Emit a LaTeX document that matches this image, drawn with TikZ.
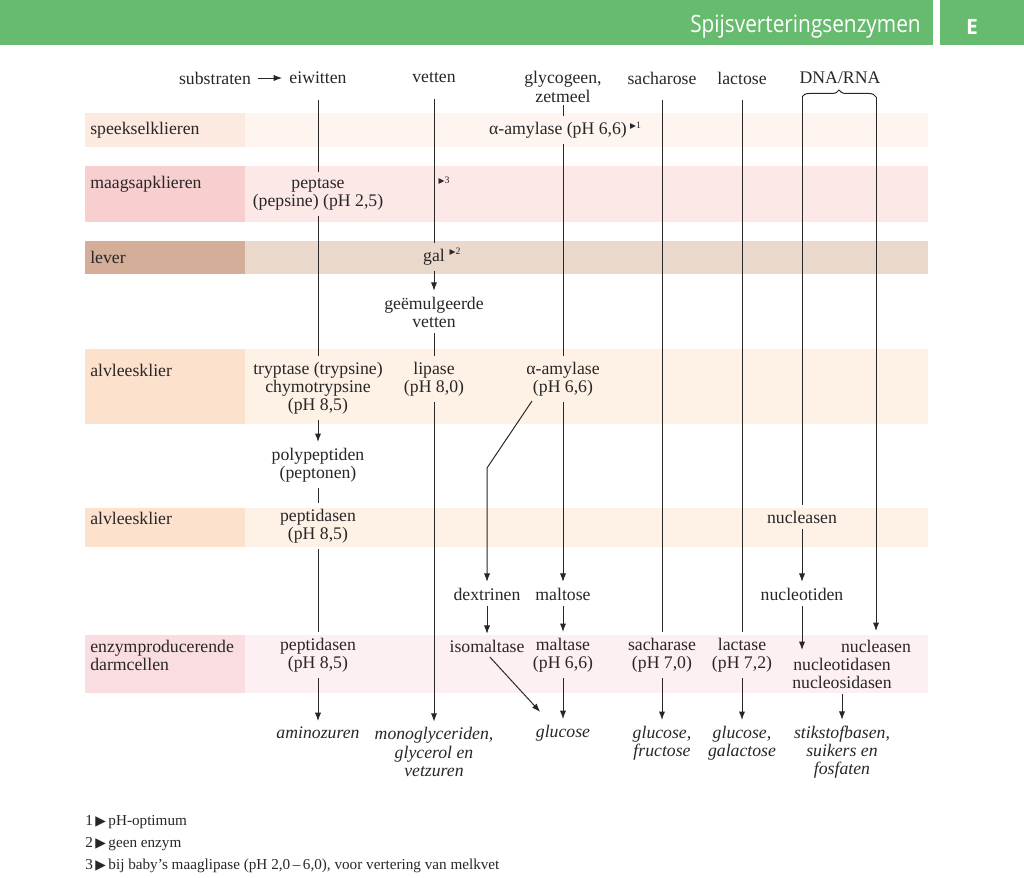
\documentclass[tikz,border=0pt]{standalone}
\usepackage{fontspec}
\usepackage{graphicx}
\setmainfont{Liberation Serif}
\newfontfamily\kopfont{Open Sans}
\newfontfamily\symfont{DejaVu Sans}
\usetikzlibrary{arrows.meta, positioning, calc, decorations.pathreplacing}
\definecolor{groen}{RGB}{102,187,110}
\definecolor{inkt}{RGB}{40,38,38}
\definecolor{spkl}{RGB}{252,233,223}
\definecolor{spkb}{RGB}{254,244,240}
\definecolor{maagl}{RGB}{247,207,207}
\definecolor{maagb}{RGB}{253,232,232}
\definecolor{leverl}{RGB}{212,174,152}
\definecolor{leverb}{RGB}{235,216,205}
\definecolor{alvl}{RGB}{252,225,205}
\definecolor{alvb}{RGB}{254,242,231}
\definecolor{darml}{RGB}{250,221,225}
\definecolor{darmb}{RGB}{253,240,242}
\newcommand{\tekst}{\fontsize{12.6}{12.9}\selectfont}
\newcommand{\voet}{\fontsize{10.8}{12}\selectfont}
\newcommand{\pijl}{{\symfont\scalebox{0.9}{▶}}}
\newcommand{\noot}[1]{{\symfont\fontsize{5.5}{5.5}\selectfont ▶}{\fontsize{7}{7}\selectfont #1}}

\begin{document}
\begin{tikzpicture}[x=0.025cm, y=-0.025cm,
  txt/.style={align=center, inner sep=1pt, text=inkt, font=\tekst},
  res/.style={txt, font=\tekst\itshape},
  rij/.style={anchor=west, align=left, inner sep=0pt, text=inkt, font=\tekst},
  lijn/.style={draw=inkt, line width=0.7pt, shorten <=3pt, shorten >=3pt},
  pijlen/.style={lijn, -{Latex[length=6pt,width=4.4pt]}},
  boven/.style={lijn, shorten <=10pt}]
\useasboundingbox (0,0) rectangle (1024,877);

\fill[groen] (0,0) rectangle (933,45);
\fill[groen] (940,0) rectangle (1024,45);
\node[anchor=east, inner sep=0pt, text=white, font=\kopfont\fontsize{17}{17}\selectfont] (titel) at (921,27) {\scalebox{0.87}[1]{Spijsverteringsenzymen}};
\node[inner sep=0pt, text=white, font=\kopfont\bfseries\fontsize{15}{15}\selectfont] (letter) at (972,27) {E};

\fill[spkl] (85,113) rectangle (245,147);
\fill[spkb] (245,113) rectangle (928,147);
\fill[maagl] (85,166) rectangle (245,222);
\fill[maagb] (245,166) rectangle (928,222);
\fill[leverl] (85,241) rectangle (245,274);
\fill[leverb] (245,241) rectangle (928,274);
\fill[alvl] (85,349) rectangle (245,424);
\fill[alvb] (245,349) rectangle (928,424);
\fill[alvl] (85,508) rectangle (245,547);
\fill[alvb] (245,508) rectangle (928,547);
\fill[darml] (85,635) rectangle (245,693);
\fill[darmb] (245,635) rectangle (928,693);

\node[rij] (r1) at (90,130) {speekselklieren};
\node[rij] (r2) at (90,184) {maagsapklieren};
\node[rij] (r3) at (90,257) {lever};
\node[rij] (r4) at (90,370) {alvleesklier};
\node[rij] (r5) at (90,518) {alvleesklier};
\node[rij] (r6) at (90,655) {enzymproducerende\\darmcellen};

\node[txt] (substr) at (215,78) {substraten};
\node[txt] (eiw) at (318,78) {eiwitten};
\node[txt] (vet) at (434,78) {vetten};
\node[txt] (glyco) at (563,87) {glycogeen,\\zetmeel};
\node[txt] (sach) at (662,78) {sacharose};
\node[txt] (lact) at (742,78) {lactose};
\node[txt] (dna) at (840,78) {DNA/RNA};
\coordinate (bl) at (802,97);
\coordinate (br) at (876,97);

\node[txt] (amyl1) at (558,130) {α-amylase (pH 6,6)};
\node[inner sep=0pt, text=inkt, anchor=south west] (nt1) at ([shift={(1pt,-7pt)}]amyl1.north east) {\noot{1}};
\node[txt] (peptase) at (318,194) {peptase\\(pepsine) (pH 2,5)};
\node[inner sep=0pt, text=inkt] (nt3) at (444,181) {\noot{3}};
\node[txt] (gal) at (434,257) {gal};
\node[inner sep=0pt, text=inkt, anchor=south west] (nt2) at ([shift={(2pt,-6pt)}]gal.north east) {\noot{2}};
\node[txt] (emul) at (434,312) {geëmulgeerde\\vetten};
\node[txt] (trypt) at (318,388) {tryptase (trypsine)\\chymotrypsine\\(pH 8,5)};
\node[txt] (lipase) at (434,379) {lipase\\(pH 8,0)};
\node[txt] (amyl2) at (563,379) {α-amylase\\(pH 6,6)};
\node[txt] (polyp) at (318,465) {polypeptiden\\(peptonen)};
\node[txt] (pepti1) at (318,526) {peptidasen\\(pH 8,5)};
\node[txt] (nucl1) at (802,517) {nucleasen};
\node[txt] (dextr) at (487,594) {dextrinen};
\node[txt] (malt) at (563,594) {maltose};
\node[txt] (nuctid) at (802,594) {nucleotiden};
\node[txt] (pepti2) at (318,655) {peptidasen\\(pH 8,5)};
\node[txt] (isomalt) at (487,646) {isomaltase};
\node[txt] (maltase) at (563,655) {maltase\\(pH 6,6)};
\node[txt] (sacch) at (662,655) {sacharase\\(pH 7,0)};
\node[txt] (lactase) at (742,655) {lactase\\(pH 7,2)};
\node[txt] (nucl2) at (876,646) {nucleasen};
\node[txt] (nucdas) at (842,673) {nucleotidasen\\nucleosidasen};

\node[res] (amino) at (318,733) {aminozuren};
\node[res] (mono) at (434,752) {monoglyceriden,\\glycerol en\\vetzuren};
\node[res] (gluc) at (563,733) {glucose};
\node[res] (glfr) at (662,743) {glucose,\\fructose};
\node[res] (glga) at (742,743) {glucose,\\galactose};
\node[res] (stik) at (842,752) {stikstofbasen,\\suikers en\\fosfaten};

\coordinate (splits) at (532,401);
\coordinate (knik) at (487,468);
\coordinate (nucpunt) at (802,650);
\coordinate (glpunt) at (543,715);

\draw[pijlen, shorten <=4pt, shorten >=4pt] (substr) -- (eiw);
\draw[boven] (eiw) -- (peptase);
\draw[lijn] (peptase) -- (trypt);
\draw[pijlen] (trypt) -- (polyp);
\draw[lijn] (polyp) -- (pepti1);
\draw[lijn] (pepti1) -- (pepti2);
\draw[pijlen] (pepti2) -- (amino);

\draw[boven] (vet) -- (gal);
\draw[pijlen] (gal) -- (emul);
\draw[lijn] (emul) -- (lipase);
\draw[pijlen] (lipase) -- (mono);

\draw[lijn, shorten <=1pt] (glyco.south) -- (glyco.south |- amyl1.north);
\draw[lijn] (glyco.south |- amyl1.south) -- (amyl2);
\draw[pijlen] (amyl2) -- (malt);
\draw[pijlen, shorten <=0pt] (splits) -- (knik) -- (dextr);
\draw[pijlen] (dextr) -- (isomalt);
\draw[pijlen] (malt) -- (maltase);
\draw[pijlen] (isomalt.south) -- (glpunt);
\draw[pijlen] (maltase) -- (gluc);

\draw[boven] (sach) -- (sacch);
\draw[pijlen] (sacch) -- (glfr);
\draw[boven] (lact) -- (lactase);
\draw[pijlen] (lactase) -- (glga);

\draw[draw=inkt, line width=0.7pt, decorate, decoration={brace, amplitude=5pt}] (bl) -- (br);
\draw[lijn, shorten <=0pt] (bl) -- (nucl1);
\draw[pijlen] (nucl1) -- (nuctid);
\draw[pijlen, shorten >=0pt] (nuctid) -- (nucpunt);
\draw[pijlen, shorten <=0pt, shorten >=5pt] (br) -- (nucl2);
\draw[pijlen] (nucdas) -- (stik);

\node[anchor=west, inner sep=0pt, text=inkt, font=\voet] (v1) at (85,822) {1\,\pijl\,pH-optimum};
\node[anchor=west, inner sep=0pt, text=inkt, font=\voet] (v2) at (85,844) {2\,\pijl\,geen enzym};
\node[anchor=west, inner sep=0pt, text=inkt, font=\voet] (v3) at (85,866) {3\,\pijl\,bij baby’s maaglipase (pH 2,0\,–\,6,0), voor vertering van melkvet};
\end{tikzpicture}
\end{document}
